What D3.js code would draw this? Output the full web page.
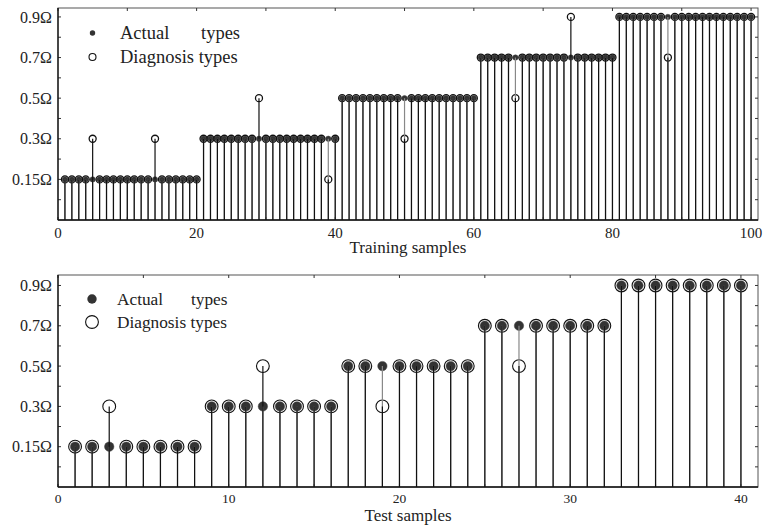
<!DOCTYPE html>
<html><head><meta charset="utf-8">
<script src="https://cdn.jsdelivr.net/npm/d3@7"></script>
<style>body{margin:0;background:#fff}svg{display:block}text{font-family:"Liberation Serif","Times New Roman",serif;fill:#222}</style>
</head><body><svg id="c" width="764" height="528"></svg>
<script>
const levels = [0.15, 0.3, 0.5, 0.7, 0.9];
const levelLabels = ["0.15Ω", "0.3Ω", "0.5Ω", "0.7Ω", "0.9Ω"];

const trainActual = [
0.15,0.15,0.15,0.15,0.15,0.15,0.15,0.15,0.15,0.15,
0.15,0.15,0.15,0.15,0.15,0.15,0.15,0.15,0.15,0.15,
0.3,0.3,0.3,0.3,0.3,0.3,0.3,0.3,0.3,0.3,
0.3,0.3,0.3,0.3,0.3,0.3,0.3,0.3,0.3,0.3,
0.5,0.5,0.5,0.5,0.5,0.5,0.5,0.5,0.5,0.5,
0.5,0.5,0.5,0.5,0.5,0.5,0.5,0.5,0.5,0.5,
0.7,0.7,0.7,0.7,0.7,0.7,0.7,0.7,0.7,0.7,
0.7,0.7,0.7,0.7,0.7,0.7,0.7,0.7,0.7,0.7,
0.9,0.9,0.9,0.9,0.9,0.9,0.9,0.9,0.9,0.9,
0.9,0.9,0.9,0.9,0.9,0.9,0.9,0.9,0.9,0.9];
const trainDiag = [
0.15,0.15,0.15,0.15,0.3,0.15,0.15,0.15,0.15,0.15,
0.15,0.15,0.15,0.3,0.15,0.15,0.15,0.15,0.15,0.15,
0.3,0.3,0.3,0.3,0.3,0.3,0.3,0.3,0.5,0.3,
0.3,0.3,0.3,0.3,0.3,0.3,0.3,0.3,0.15,0.3,
0.5,0.5,0.5,0.5,0.5,0.5,0.5,0.5,0.5,0.3,
0.5,0.5,0.5,0.5,0.5,0.5,0.5,0.5,0.5,0.5,
0.7,0.7,0.7,0.7,0.7,0.5,0.7,0.7,0.7,0.7,
0.7,0.7,0.7,0.9,0.7,0.7,0.7,0.7,0.7,0.7,
0.9,0.9,0.9,0.9,0.9,0.9,0.9,0.7,0.9,0.9,
0.9,0.9,0.9,0.9,0.9,0.9,0.9,0.9,0.9,0.9];
const testActual = [
0.15,0.15,0.15,0.15,0.15,0.15,0.15,0.15,
0.3,0.3,0.3,0.3,0.3,0.3,0.3,0.3,
0.5,0.5,0.5,0.5,0.5,0.5,0.5,0.5,
0.7,0.7,0.7,0.7,0.7,0.7,0.7,0.7,
0.9,0.9,0.9,0.9,0.9,0.9,0.9,0.9];
const testDiag = [
0.15,0.15,0.3,0.15,0.15,0.15,0.15,0.15,
0.3,0.3,0.3,0.5,0.3,0.3,0.3,0.3,
0.5,0.5,0.3,0.5,0.5,0.5,0.5,0.5,
0.7,0.7,0.5,0.7,0.7,0.7,0.7,0.7,
0.9,0.9,0.9,0.9,0.9,0.9,0.9,0.9];
const trainTicks = [0, 20, 40, 60, 80, 100];
const testTicks = [0, 10, 20, 30, 40];
const legendNames = ["Actual", "types", "Diagnosis types"];
const xTitles = ["Training samples", "Test samples"];

const svg = d3.select("#c");

function panel(o) {
  const g = svg.append("g");
  const x = d3.scaleLinear().domain([0, o.xMax]).range([o.left, o.right]);
  const y = d3.scaleLinear().domain([0, o.yMax]).range([o.bottom, o.top]);
  const lv = v => levels.indexOf(v) + 1;
  const n = o.actual.length;
  const idx = d3.range(1, n + 1);

  g.append("rect").attr("x", o.left).attr("y", o.top).attr("width", o.right - o.left)
    .attr("height", o.bottom - o.top).attr("fill", "none").attr("stroke", "#555").attr("stroke-width", 1);

  const yt = d3.range(1, 11).map(d => d / 2);
  g.selectAll(".ytl").data(yt).join("line")
    .attr("x1", o.left).attr("x2", o.left + 3).attr("y1", d => y(d)).attr("y2", d => y(d))
    .attr("stroke", "#333");
  g.selectAll(".ytr").data(yt).join("line")
    .attr("x1", o.right).attr("x2", o.right - 3).attr("y1", d => y(d)).attr("y2", d => y(d))
    .attr("stroke", "#333");
  const xt = d3.range(0, o.xMax, o.minor);
  g.selectAll(".xtt").data(xt).join("line")
    .attr("x1", d => x(d)).attr("x2", d => x(d)).attr("y1", o.top).attr("y2", o.top + 3)
    .attr("stroke", "#333");
  g.selectAll(".xtb").data(xt).join("line")
    .attr("x1", d => x(d)).attr("x2", d => x(d)).attr("y1", o.bottom).attr("y2", o.bottom - 3)
    .attr("stroke", "#333");

  g.selectAll(".yl").data(levelLabels).join("text")
    .attr("x", o.left - 6).attr("y", (d, i) => y(i + 1)).attr("dy", "0.35em")
    .attr("text-anchor", "end").attr("font-size", 16).text(d => d);
  g.selectAll(".xl").data(o.ticks).join("text")
    .attr("x", d => x(d)).attr("y", o.tickY).attr("text-anchor", "middle")
    .attr("font-size", o.tickFont).attr("fill", "#333").text(d => d);
  g.append("text").attr("x", 408).attr("y", o.titleY).attr("text-anchor", "middle")
    .attr("font-size", 17).text(o.title);

  g.selectAll(".dot").data(idx).join("circle")
    .attr("cx", d => x(d)).attr("cy", d => y(lv(o.actual[d - 1]))).attr("r", o.rDot)
    .attr("fill", "#333").attr("stroke", "#444").attr("stroke-width", 0.5);
  g.selectAll(".circ").data(idx).join("circle")
    .attr("cx", d => x(d)).attr("cy", d => y(lv(o.diag[d - 1]))).attr("r", o.rCirc)
    .attr("fill", "none").attr("stroke", "#111").attr("stroke-width", o.cw);
  g.selectAll(".sa").data(idx).join("line")
    .attr("x1", d => x(d)).attr("x2", d => x(d)).attr("y1", y(0)).attr("y2", d => y(lv(o.actual[d - 1])))
    .attr("stroke", "#888").attr("stroke-width", 1.2);
  g.selectAll(".sd").data(idx).join("line")
    .attr("x1", d => x(d)).attr("x2", d => x(d)).attr("y1", y(0)).attr("y2", d => y(lv(o.diag[d - 1])))
    .attr("stroke", "#111").attr("stroke-width", 1.2);

  g.append("line").attr("x1", o.left).attr("x2", o.left).attr("y1", o.top).attr("y2", o.bottom).attr("stroke", "#111").attr("stroke-width", 1.3);
  g.append("line").attr("x1", o.left).attr("x2", o.right).attr("y1", o.bottom).attr("y2", o.bottom).attr("stroke", "#111").attr("stroke-width", 1.3);

  const L = o.legend;
  g.append("circle").attr("cx", L.mx).attr("cy", L.y1).attr("r", o.rDot).attr("fill", "#333");
  g.append("circle").attr("cx", L.mx).attr("cy", L.y2).attr("r", o.rCirc).attr("fill", "none").attr("stroke", "#111").attr("stroke-width", 1.1);
  g.append("text").attr("x", L.tx).attr("y", L.y1).attr("dy", "0.33em").attr("font-size", L.fs).text(legendNames[0]);
  g.append("text").attr("x", L.tx2).attr("y", L.y1).attr("dy", "0.33em").attr("font-size", L.fs).text(legendNames[1]);
  g.append("text").attr("x", L.tx).attr("y", L.y2).attr("dy", "0.33em").attr("font-size", L.fs).text(legendNames[2]);
}

panel({actual: trainActual, diag: trainDiag, xMax: 101, left: 58, right: 758, top: 8, bottom: 220,
  yMax: 5.22, minor: 10, ticks: trainTicks, tickY: 238, tickFont: 15, title: xTitles[0], titleY: 253,
  rDot: 2.7, rCirc: 3.5, cw: 1.3, legend: {mx: 92.5, y1: 33, y2: 57, tx: 120, tx2: 201, fs: 18.5}});
panel({actual: testActual, diag: testDiag, xMax: 41, left: 58, right: 758, top: 275, bottom: 487,
  yMax: 5.26, minor: 5, ticks: testTicks, tickY: 503, tickFont: 13.5, title: xTitles[1], titleY: 521,
  rDot: 4.7, rCirc: 6.4, cw: 1.1, legend: {mx: 92, y1: 299, y2: 322, tx: 117, tx2: 191, fs: 17.3}});
</script></body></html>
